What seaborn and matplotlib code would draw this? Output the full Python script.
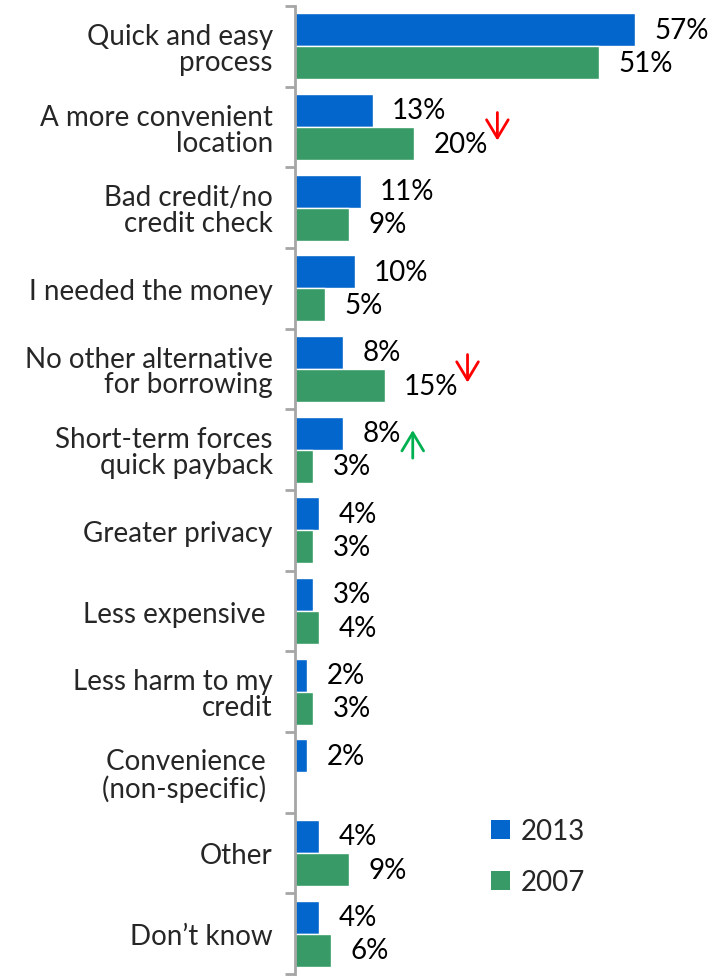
import numpy as np
import pandas as pd
import matplotlib
matplotlib.use("Agg")
import matplotlib.pyplot as plt
from matplotlib.patches import Patch
from matplotlib.transforms import offset_copy
import seaborn as sns

reasons = [
    "Quick and easy\nprocess",
    "A more convenient\nlocation",
    "Bad credit/no\ncredit check",
    "I needed the money",
    "No other alternative\nfor borrowing",
    "Short-term forces\nquick payback",
    "Greater privacy",
    "Less expensive ",
    "Less harm to my\ncredit",
    "Convenience \n(non-specific) ",
    "Other",
    "Don\u2019t know",
]
pct_2013 = [57, 13, 11, 10, 8, 8, 4, 3, 2, 2, 4, 4]
pct_2007 = [51, 20, 9, 5, 15, 3, 3, 4, 3, np.nan, 9, 6]
years = ["2013", "2007"]
colors = {"2013": "#0366CC", "2007": "#389B67"}

# changes flagged with arrows: (reason index, year, direction)
flags = [(1, "2007", "down"), (4, "2007", "down"), (5, "2013", "up")]

df = pd.DataFrame({
    "reason": reasons * 2,
    "pct": pct_2013 + pct_2007,
    "year": [years[0]] * len(reasons) + [years[1]] * len(reasons),
})

sns.set_style("white")
plt.rcParams["font.family"] = ["Lato", "DejaVu Sans"]

fig = plt.figure(figsize=(7.14, 9.78), dpi=100)
ax = fig.add_axes([295 / 714, 3 / 978, 1 - 295 / 714, 968 / 978])

sns.barplot(data=df, y="reason", x="pct", hue="year", orient="h",
            palette=colors, saturation=1, width=0.82, errorbar=None,
            order=reasons, hue_order=years, legend=False, ax=ax)

ax.set_xlim(0, 70.2)
ax.set_ylim(len(reasons) - 0.5, -0.5)
ax.set_xlabel("")
ax.set_ylabel("")
ax.set_xticks([])

ax.set_yticks(range(len(reasons)))
ax.set_yticklabels(reasons, fontsize=20, linespacing=1.0)
ax.set_yticks(np.arange(-0.5, len(reasons)), minor=True)
ax.tick_params(axis="y", which="major", left=False, length=0, pad=16)
ax.tick_params(axis="y", which="minor", left=True, direction="out",
               length=7, width=2, color="#A6A6A6")

for s in ["top", "right", "bottom"]:
    ax.spines[s].set_visible(False)
ax.spines["left"].set_color("#A6A6A6")
ax.spines["left"].set_linewidth(2)

# value labels next to each bar
bar_lookup = {}
for year, container in zip(years, ax.containers):
    for patch in container.patches:
        w = patch.get_width()
        if np.isnan(w) or w == 0:
            continue
        yc = patch.get_y() + patch.get_height() / 2
        idx = int(round(yc))
        bar_lookup[(idx, year)] = (w, yc)
        ax.annotate(f"{w:.0f}%", xy=(w, yc), xytext=(14, 0),
                    textcoords="offset points", ha="left", va="center",
                    fontsize=20, color="black")

# change arrows
arrow_offsets = {"down": (83, 17), "up": (70, -11)}
for idx, year, direction in flags:
    w, yc = bar_lookup[(idx, year)]
    dx, dy = arrow_offsets[direction]
    sign = -1 if direction == "down" else 1
    tr_head = offset_copy(ax.transData, fig=fig, x=dx, y=dy + sign * 14, units="dots")
    tr_tail = offset_copy(ax.transData, fig=fig, x=dx, y=dy - sign * 14, units="dots")
    col = "#FF0000" if direction == "down" else "#00B050"
    ax.annotate("", xy=(w, yc), xycoords=tr_head, xytext=(w, yc), textcoords=tr_tail,
                arrowprops=dict(arrowstyle="->,head_length=0.5,head_width=0.3",
                                color=col, lw=2, mutation_scale=26,
                                shrinkA=0, shrinkB=0))

handles = [Patch(facecolor=colors[y], edgecolor="none", label=y) for y in years]
fig.legend(handles=handles, loc="upper left", bbox_to_anchor=(480 / 714, 1 - 808 / 978),
           frameon=False, fontsize=20, handlelength=0.68, handleheight=0.68,
           handletextpad=0.4, labelspacing=0.9, borderaxespad=0)

fig.savefig("out.png", dpi=100)
